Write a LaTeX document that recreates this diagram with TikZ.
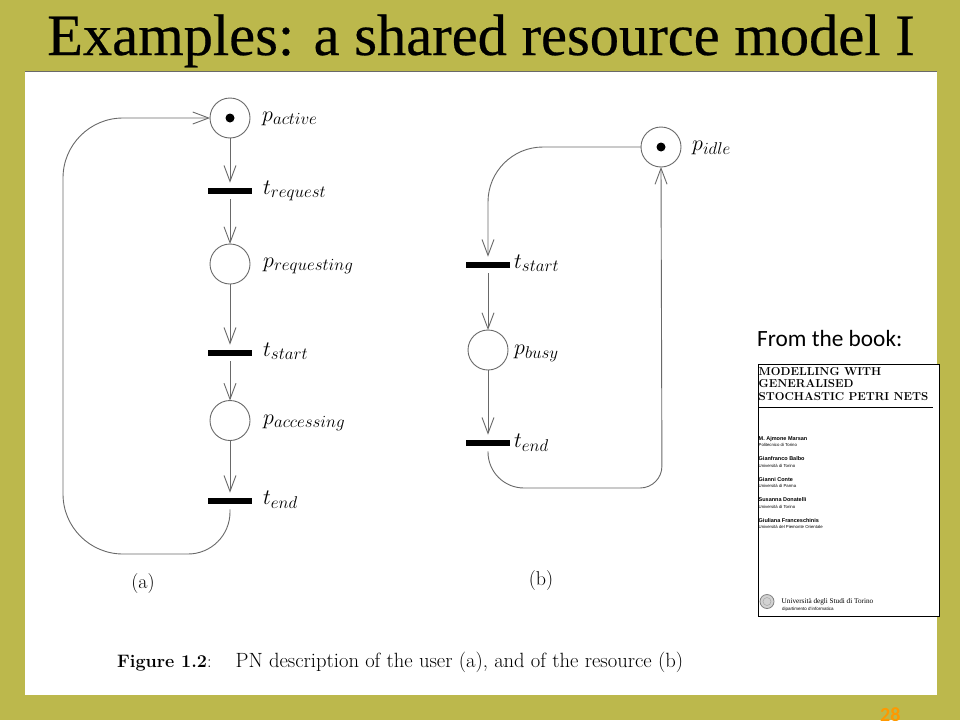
\RequirePackage{fix-cm}
\documentclass[tikz,border=0pt]{standalone}
\usepackage{fontspec}
\usetikzlibrary{arrows.meta}
\newfontfamily\slidefont[FakeBold=0.4]{Liberation Serif}
\newfontfamily\bookserif{Liberation Serif}
\newfontfamily\calibri{Carlito}
\newfontfamily\helv{Liberation Sans}
\definecolor{slideolive}{RGB}{188,184,76}
\definecolor{netgray}{RGB}{105,105,105}
\definecolor{pagenum}{RGB}{255,153,0}
\DeclareMathSizes{22}{22}{17}{13}

\begin{document}
\begin{tikzpicture}[x=1pt,y=-1pt,
        place/.style={circle,draw=netgray,line width=0.9pt,minimum size=40pt,inner sep=0pt,outer sep=0pt},
        token/.style={circle,fill=black,minimum size=9pt,inner sep=0pt},
        trans/.style={rectangle,fill=black,minimum width=44pt,minimum height=6.6pt,inner sep=0pt,outer sep=5pt},
        lbl/.style={anchor=base west,inner sep=0pt,font=\fontsize{22}{26}\selectfont},
        arc/.style={draw=netgray,line width=0.9pt,-{Straight Barb[length=16pt,width=12pt]}},
        booktxt/.style={anchor=base west,inner sep=0pt}]
    \useasboundingbox (0,0) rectangle (960,720);
    \fill[slideolive] (0,0) rectangle (960,720);
    \fill[white] (25,72) rectangle (937,695);
    \draw[netgray,line width=1.3pt] (25,71.5) -- (937,71.5);
    \node[anchor=base west,inner sep=0pt,font=\slidefont\fontsize{58.5}{60}\selectfont] (title) at (47,55) {Examples: a shared resource model I};
    \node[anchor=base west,inner sep=0pt,font=\fontsize{20}{24}\selectfont\calibri\bfseries,text=pagenum] (pnum) at (880,721) {28};

    % (a) the user
    \node[place] (pact) at (230,118) {};
    \node[token] (tokact) at (pact) {};
    \node[trans] (treq) at (230,191) {};
    \node[place] (preq) at (230,264) {};
    \node[trans] (tsta) at (230,353) {};
    \node[place] (pacc) at (230,420.5) {};
    \node[trans] (tenda) at (230,501) {};
    \node[lbl] (lact) at (262,121) {$p_{active}$};
    \node[lbl] (lreq) at (263,194) {$t_{request}$};
    \node[lbl] (lpreq) at (263,267) {$p_{requesting}$};
    \node[lbl] (lsta) at (263,356) {$t_{start}$};
    \node[lbl] (lacc) at (263,424) {$p_{accessing}$};
    \node[lbl] (lenda) at (263,504) {$t_{end}$};
    \draw[arc] (pact) -- (treq);
    \draw[arc] (treq) -- (preq);
    \draw[arc] (preq) -- (tsta);
    \draw[arc] (tsta) -- (pacc);
    \draw[arc] (pacc) -- (tenda);
    \draw[arc] [rounded corners=42pt] (tenda.south) -- (230,554) [rounded corners=60pt] -- (63,554) -- (63,118) -- (pact.west);
    \node[font=\fontsize{20}{24}\selectfont] (capa) at (143,584) {(a)};

    % (b) the resource
    \node[place] (pidle) at (661,147) {};
    \node[token] (tokidle) at (pidle) {};
    \node[trans] (tstb) at (488,265) {};
    \node[place] (pbusy) at (488,350) {};
    \node[trans] (tendb) at (488,443) {};
    \node[lbl] (lidle) at (692,150) {$p_{idle}$};
    \node[lbl] (lstb) at (514,268) {$t_{start}$};
    \node[lbl] (lbusy) at (514,354) {$p_{busy}$};
    \node[lbl] (lendb) at (514,447) {$t_{end}$};
    \draw[arc] [rounded corners=55pt] (pidle.west) -- (488,147) -- (tstb.north);
    \draw[arc] [rounded corners=36pt] (tendb.south) -- (488,488) [rounded corners=22pt] -- (662,488) -- (pidle.south);
    \draw[arc] (tstb) -- (pbusy);
    \draw[arc] (pbusy) -- (tendb);
    \node[font=\fontsize{20}{24}\selectfont] (capb) at (541,581) {(b)};

    \node[anchor=base west,inner sep=0pt,font=\fontsize{20.6}{24}\selectfont] (caption) at (117,667) {{\fontsize{18}{20}\selectfont\textbf{Figure 1.2}:}\hspace{24pt}PN description of the user (a), and of the resource (b)};

    % the book
    \node[anchor=base west,inner sep=0pt,font=\calibri\fontsize{23.3}{26}\selectfont] (from) at (757,346.5) {From the book:};
    \node[draw=black,line width=1.3pt,fill=white,anchor=north west,minimum width=181pt,minimum height=252pt,inner sep=0pt] (book) at (757.5,364) {};
    \node[booktxt,font=\fontsize{11.5}{12}\selectfont\bfseries] (bt1) at (758.5,375) {MODELLING WITH};
    \node[booktxt,font=\fontsize{11.5}{12}\selectfont\bfseries] (bt2) at (758.5,387.5) {GENERALISED};
    \node[booktxt,font=\fontsize{11.5}{12}\selectfont\bfseries] (bt3) at (758.5,400) {STOCHASTIC PETRI NETS};
    \draw[line width=1.6pt] (758.5,407.3) -- (933,407.3);
    \node[booktxt,font=\helv\bfseries\fontsize{5.5}{6}\selectfont] (au1) at (758.5,440) {M. Ajmone Marsan};
    \node[booktxt,font=\helv\fontsize{4.3}{5}\selectfont] (af1) at (758.5,446.7) {Politecnico di Torino};
    \node[booktxt,font=\helv\bfseries\fontsize{5.5}{6}\selectfont] (au2) at (758.5,460.7) {Gianfranco Balbo};
    \node[booktxt,font=\helv\fontsize{4.3}{5}\selectfont] (af2) at (758.5,467) {Università di Torino};
    \node[booktxt,font=\helv\bfseries\fontsize{5.5}{6}\selectfont] (au3) at (758.5,481) {Gianni Conte};
    \node[booktxt,font=\helv\fontsize{4.3}{5}\selectfont] (af3) at (758.5,487.3) {Università di Parma};
    \node[booktxt,font=\helv\bfseries\fontsize{5.5}{6}\selectfont] (au4) at (758.5,501.7) {Susanna Donatelli};
    \node[booktxt,font=\helv\fontsize{4.3}{5}\selectfont] (af4) at (758.5,508) {Università di Torino};
    \node[booktxt,font=\helv\bfseries\fontsize{5.5}{6}\selectfont] (au5) at (758.5,522) {Giuliana Franceschinis};
    \node[booktxt,font=\helv\fontsize{4.3}{5}\selectfont] (af5) at (758.5,528.3) {Università del Piemonte Orientale};
    \node[circle,draw=gray,line width=0.8pt,fill=gray!35,minimum size=14pt,inner sep=0pt] (seal) at (767,601.5) {};
    \node[circle,draw=gray!70,line width=0.5pt,minimum size=8pt,inner sep=0pt] (sealin) at (seal) {};
    \node[booktxt,font=\bookserif\fontsize{7.2}{8}\selectfont] (uni) at (781.5,603) {Università degli Studi di Torino};
    \node[booktxt,font=\helv\fontsize{4.5}{5}\selectfont] (dip) at (782,610.7) {dipartimento d'informatica};
\end{tikzpicture}
\end{document}
